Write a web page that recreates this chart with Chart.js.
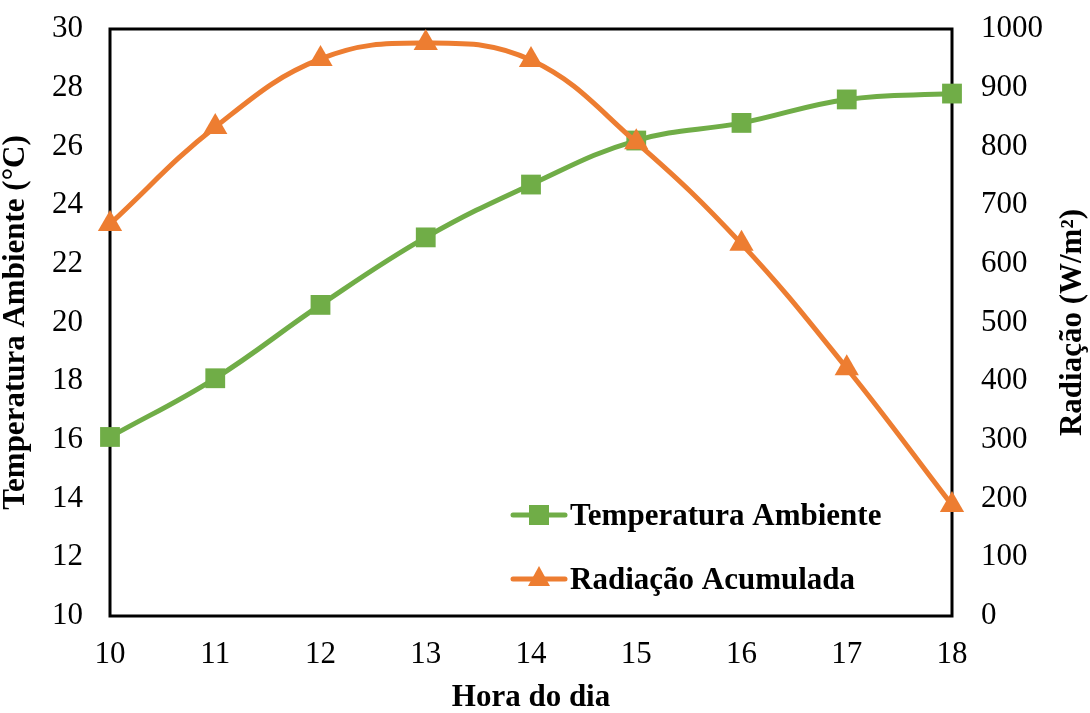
<!DOCTYPE html>
<html lang="pt">
<head>
    <meta charset="UTF-8">
    <title>Temperatura e Radiação</title>
    <script src="https://cdn.jsdelivr.net/npm/chart.js"></script>
    <style>
        body { margin: 0; background: #fff; }
    </style>
</head>
<body>
    <canvas id="grafico" width="1090" height="713"></canvas>

    <script>
        // Dados
        const horas = ['10', '11', '12', '13', '14', '15', '16', '17', '18'];
        const temperatura = [16.1, 18.1, 20.6, 22.9, 24.7, 26.2, 26.8, 27.6, 27.8];
        const radiacao = [668, 833, 949, 976, 947, 807, 634, 422, 189];

        const verde = '#70AD47';
        const laranja = '#ED7D31';
        const fonte = "'Liberation Serif', 'Times New Roman', serif";

        // moldura preta em volta da área do gráfico
        const moldura = {
            id: 'moldura',
            beforeDatasetsDraw(chart) {
                const a = chart.chartArea;
                const ctx = chart.ctx;
                ctx.save();
                ctx.strokeStyle = '#000';
                ctx.lineWidth = 3;
                ctx.strokeRect(a.left, a.top, a.right - a.left, a.bottom - a.top);
                ctx.restore();
            }
        };

        // título do eixo direito (lido de baixo para cima) e legenda dentro do gráfico
        const extras = {
            id: 'extras',
            afterDraw(chart) {
                const ctx = chart.ctx;
                ctx.save();
                ctx.fillStyle = '#000';
                ctx.font = 'bold 31px ' + fonte;
                ctx.textAlign = 'center';
                ctx.textBaseline = 'middle';
                ctx.translate(1073, (chart.chartArea.top + chart.chartArea.bottom) / 2);
                ctx.rotate(-Math.PI / 2);
                ctx.fillText('Radiação (W/m²)', 0, 0);
                ctx.restore();

                const itens = [
                    { ds: chart.data.datasets[0], y: 515 },
                    { ds: chart.data.datasets[1], y: 579 }
                ];
                itens.forEach(item => {
                    const ds = item.ds;
                    ctx.save();
                    ctx.strokeStyle = ds.borderColor;
                    ctx.lineWidth = 5;
                    ctx.lineCap = 'round';
                    ctx.beginPath();
                    ctx.moveTo(513, item.y);
                    ctx.lineTo(565, item.y);
                    ctx.stroke();
                    ctx.fillStyle = ds.backgroundColor;
                    const cx = 539;
                    if (ds.pointStyle === 'rect') {
                        ctx.fillRect(cx - 10, item.y - 10, 20, 20);
                    } else {
                        ctx.beginPath();
                        ctx.moveTo(cx, item.y - 13);
                        ctx.lineTo(cx + 11, item.y + 7);
                        ctx.lineTo(cx - 11, item.y + 7);
                        ctx.closePath();
                        ctx.fill();
                    }
                    ctx.fillStyle = '#000';
                    ctx.font = 'bold 31px ' + fonte;
                    ctx.textAlign = 'left';
                    ctx.textBaseline = 'middle';
                    ctx.fillText(ds.label, 570, item.y + 2);
                    ctx.restore();
                });
            }
        };

        // larguras fixas dos eixos para posicionar a área do gráfico
        function fixaVertical(largura) {
            return function (scale) {
                scale.width = largura;
                scale.paddingTop = 0;
                scale.paddingBottom = 0;
            };
        }

        const ctx = document.getElementById('grafico').getContext('2d');
        new Chart(ctx, {
            type: 'line',
            data: {
                labels: horas,
                datasets: [
                    {
                        label: 'Temperatura Ambiente',
                        data: temperatura,
                        yAxisID: 'y',
                        borderColor: verde,
                        backgroundColor: verde,
                        borderWidth: 5,
                        pointStyle: 'rect',
                        pointRadius: 14,
                        pointBorderWidth: 0,
                        tension: 0.4,
                        clip: false,
                        order: 2
                    },
                    {
                        label: 'Radiação Acumulada',
                        data: radiacao,
                        yAxisID: 'y1',
                        borderColor: laranja,
                        backgroundColor: laranja,
                        borderWidth: 5,
                        pointStyle: 'triangle',
                        pointRadius: 14,
                        pointBorderWidth: 0,
                        tension: 0.4,
                        clip: false,
                        order: 1
                    }
                ]
            },
            options: {
                responsive: false,
                animation: false,
                layout: { padding: { top: 29, left: 0, right: 0, bottom: 0 } },
                plugins: {
                    legend: { display: false },
                    tooltip: { enabled: false }
                },
                scales: {
                    x: {
                        type: 'category',
                        offset: false,
                        grid: { display: false, drawTicks: false },
                        border: { display: false },
                        ticks: {
                            color: '#000',
                            padding: 20,
                            font: { family: fonte, size: 31 }
                        },
                        title: {
                            display: true,
                            text: 'Hora do dia',
                            color: '#000',
                            padding: 0,
                            font: { family: fonte, size: 31, weight: 'bold', lineHeight: 1 }
                        },
                        afterFit(scale) {
                            scale.height = 97;
                            scale.paddingLeft = 0;
                            scale.paddingRight = 0;
                        }
                    },
                    y: {
                        position: 'left',
                        min: 10,
                        max: 30,
                        grid: { display: false, drawTicks: false },
                        border: { display: false },
                        ticks: {
                            stepSize: 2,
                            color: '#000',
                            padding: 27,
                            font: { family: fonte, size: 31 }
                        },
                        title: {
                            display: true,
                            text: 'Temperatura Ambiente (°C)',
                            color: '#000',
                            padding: 0,
                            font: { family: fonte, size: 31, weight: 'bold', lineHeight: 1 }
                        },
                        afterFit: fixaVertical(110)
                    },
                    y1: {
                        position: 'right',
                        min: 0,
                        max: 1000,
                        grid: { display: false, drawTicks: false },
                        border: { display: false },
                        ticks: {
                            stepSize: 100,
                            color: '#000',
                            padding: 29,
                            font: { family: fonte, size: 31 },
                            callback: v => String(v)
                        },
                        afterFit: fixaVertical(138)
                    }
                }
            },
            plugins: [moldura, extras]
        });
    </script>
</body>
</html>
